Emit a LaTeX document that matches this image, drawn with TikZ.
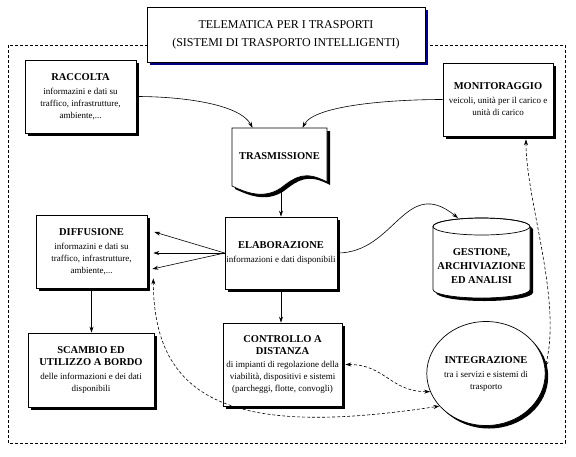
\documentclass[tikz,border=0pt]{standalone}
\usepackage{fontspec}
\setmainfont{Liberation Serif}
\usetikzlibrary{arrows.meta,shadows,shapes.geometric}
\definecolor{navyshadow}{RGB}{0,0,128}
\newcommand{\boxhead}{\fontsize{10.5}{12}\selectfont\bfseries}
\newcommand{\bodytxt}{\fontsize{9}{12}\selectfont}
\tikzset{
  box/.style={draw, fill=white, line width=0.7pt, align=center, inner sep=1pt, font=\bodytxt,
    drop shadow={shadow xshift=3pt, shadow yshift=-3pt, fill=black, opacity=1}},
  link/.style={line width=0.6pt, -{Stealth[length=6pt,width=4pt]}},
  dlink/.style={line width=0.6pt, dash pattern=on 3pt off 2pt,
    {Stealth[length=6pt,width=4pt]}-{Stealth[length=6pt,width=4pt]}},
}
\begin{document}
\begin{tikzpicture}[x=1pt,y=-1pt]
  \fill[white] (0,0) rectangle (576,456);
  \useasboundingbox (0,0) rectangle (576,456);

  % outer frame
  \draw[line width=0.6pt, dash pattern=on 3pt off 2pt] (8,45) rectangle (565,443);

  \node[draw, fill=white, line width=0.7pt, align=center, font=\fontsize{12}{18}\selectfont,
    minimum width=278pt, minimum height=55pt,
    drop shadow={shadow xshift=3pt, shadow yshift=-3pt, fill=navyshadow, opacity=1}]
    (title) at (286,34.5) {TELEMATICA PER I TRASPORTI\\(SISTEMI DI TRASPORTO INTELLIGENTI)};

  \node[box, minimum width=111pt, minimum height=73pt] (raccolta) at (80.5,96.5)
    {{\boxhead RACCOLTA}\\[2pt]informazini e dati su\\traffico, infrastrutture,\\ambiente,...};
  \node[box, minimum width=110pt, minimum height=73pt] (monit) at (498,99.5)
    {{\boxhead MONITORAGGIO}\\[2pt]veicoli, unità per il carico e\\unità di carico};

  % document shape
  \begin{scope}[xshift=3pt, yshift=-3pt]
    \fill (232,128) -- (327,128) -- (327,182) .. controls (305,170) and (295,177) .. (281,188)
      .. controls (263,200) and (245,192) .. (232,186) -- cycle;
  \end{scope}
  \draw[fill=white, line width=0.7pt] (232,128) -- (327,128) -- (327,182)
    .. controls (305,170) and (295,177) .. (281,188)
    .. controls (263,200) and (245,192) .. (232,186) -- cycle;
  \node[minimum width=95pt, minimum height=56pt, inner sep=0pt] (trasm) at (279.5,156)
    {\boxhead TRASMISSIONE};
  \coordinate (tbot) at (281,188);

  \node[box, minimum width=112pt, minimum height=72pt] (elab) at (281,253)
    {{\boxhead ELABORAZIONE}\\[2pt]informazioni e dati disponibili};
  \node[box, minimum width=111pt, minimum height=73pt] (diff) at (91.5,251.5)
    {{\boxhead DIFFUSIONE}\\[2pt]informazini e dati su\\traffico, infrastrutture,\\ambiente,...};

  % cylinder
  \begin{scope}[xshift=3pt, yshift=-3pt]
    \fill (433,226.5) -- (433,289.5) arc[start angle=180, end angle=0, x radius=48.5, y radius=8.5]
      -- (530,226.5) arc[start angle=0, end angle=-180, x radius=48.5, y radius=8.5] -- cycle;
  \end{scope}
  \draw[fill=white, line width=0.7pt] (433,226.5) -- (433,289.5)
    arc[start angle=180, end angle=0, x radius=48.5, y radius=8.5]
    -- (530,226.5) arc[start angle=0, end angle=-180, x radius=48.5, y radius=8.5] -- cycle;
  \draw[line width=0.7pt] (481.5,226.5) ellipse[x radius=48.5, y radius=8.5];
  \node[align=center, inner sep=0pt, font=\boxhead] (gest) at (481.5,266)
    {GESTIONE,\\[2pt]ARCHIVIAZIONE\\[2pt]ED ANALISI};
  \coordinate (gtop) at (458,218);

  \node[box, minimum width=126pt, minimum height=74pt] (scambio) at (91,370)
    {{\boxhead SCAMBIO ED}\\{\boxhead UTILIZZO A BORDO}\\[2pt]delle informazioni e dei dati\\disponibili};
  \node[box, minimum width=119pt, minimum height=83pt] (controllo) at (282.5,364.5)
    {{\boxhead CONTROLLO A}\\{\boxhead DISTANZA}\\[1pt]di impianti di regolazione della\\viabilità, dispositivi e sistemi\\(parcheggi, flotte, convogli)};
  \node[box, ellipse, inner sep=0pt, minimum width=116pt, minimum height=104pt] (integ) at (486,373.5)
    {{\boxhead INTEGRAZIONE}\\[2pt]tra i servizi e sistemi di\\trasporto};

  % connectors
  \draw[link] (raccolta.east) .. controls +(49,0) and +(-12,-23) .. ([xshift=-27pt]trasm.north);
  \draw[link] (monit.west) .. controls +(-49,0) and +(12,-23) .. ([xshift=23pt]trasm.north);
  \draw[link] (tbot) -- (tbot |- elab.north);

  \coordinate (d1) at ([xshift=7pt, yshift=19.5pt]diff.east);
  \coordinate (d2) at ([xshift=6pt, yshift=-1.5pt]diff.east);
  \coordinate (d3) at ([xshift=5pt, yshift=-17.5pt]diff.east);
  \foreach \d in {d1,d2,d3}
    \draw[link] (elab.west) -- (\d);

  \draw[link] (diff.south) -- (diff.south |- scambio.north);
  \draw[link] (elab.south) -- (elab.south |- controllo.north);
  \draw[link] (elab.east) .. controls +(58,0) and +(-53,-43) .. (gtop);

  \draw[dlink] ([xshift=6pt, yshift=10pt]diff.south east) .. controls +(0,132) and +(-191,29) .. (integ.215);
  \draw[dlink] ([xshift=3pt]controllo.east) .. controls +(40,0) and +(-40,0) .. (integ.198);
  \draw[dlink] ([xshift=28pt, yshift=-3pt]monit.south) .. controls +(0,61) and +(17,-68) .. (integ.6);
\end{tikzpicture}
\end{document}
